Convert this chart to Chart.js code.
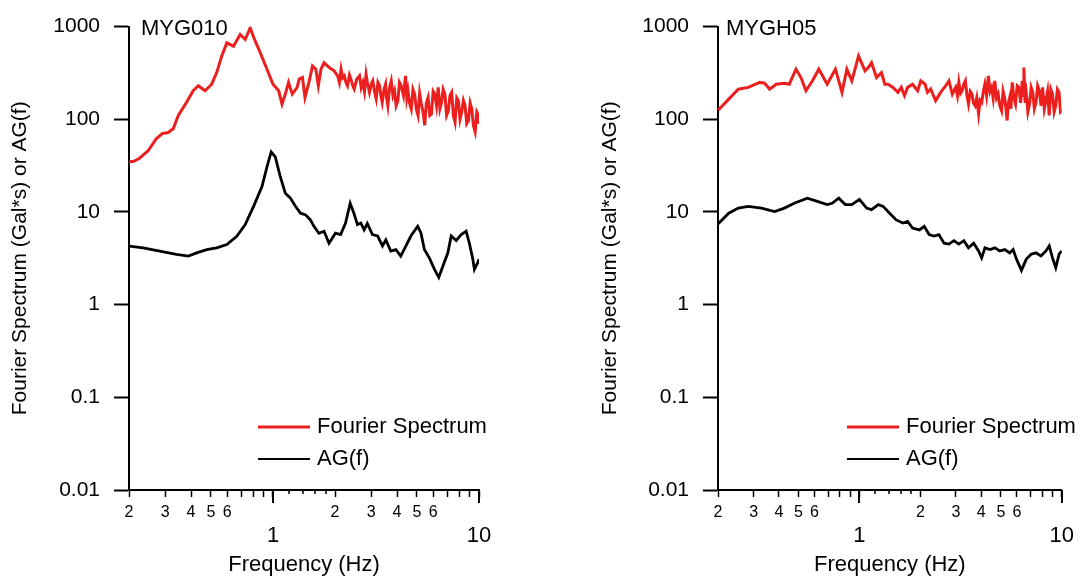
<!DOCTYPE html>
<html>
<head>
<meta charset="utf-8">
<script src="https://cdn.jsdelivr.net/npm/chart.js@4.4.1/dist/chart.umd.min.js"></script>
<style>
  html, body { margin: 0; padding: 0; background: #fff; }
  #wrap { position: relative; width: 1080px; height: 583px; overflow: hidden; }
  .panel { position: absolute; top: 0; width: 540px; height: 583px; }
</style>
</head>
<body>
<div id="wrap">
  <div class="panel" style="left:0"><canvas id="chartLeft" width="540" height="583"></canvas></div>
  <div class="panel" style="left:540px"><canvas id="chartRight" width="540" height="583"></canvas></div>
</div>
<script>
// assi
const freqTicks = [0.2, 0.3, 0.4, 0.5, 0.6, 0.7, 0.8, 0.9, 1, 2, 3, 4, 5, 6, 7, 8, 9, 10];
const freqTickLabels = ['2', '3', '4', '5', '6', '', '', '', '1', '2', '3', '4', '5', '6', '', '', '', '10'];
const freqMajor = [1, 10];
const freqSmall = [1.2, 1.4, 1.6, 1.8];
const ampTicks = [0.01, 0.1, 1, 10, 100, 1000];
const seriesNames = ['Fourier Spectrum', 'AG(f)'];

// MYG010
const myg010FourierHz = [0.2, 0.21, 0.225, 0.248, 0.272, 0.29, 0.31, 0.328, 0.347, 0.38, 0.41, 0.434, 0.468, 0.504, 0.533, 0.564, 0.597, 0.643, 0.693, 0.733, 0.775, 0.82, 0.867, 0.935, 1.0, 1.066, 1.106, 1.148, 1.19, 1.24, 1.31, 1.34, 1.39, 1.43, 1.5, 1.555, 1.615, 1.66, 1.71, 1.77, 1.875, 1.98,
    2.06, 2.1, 2.14, 2.18, 2.22, 2.26, 2.3, 2.35, 2.39, 2.44, 2.48, 2.55, 2.63, 2.68, 2.73, 2.78, 2.83, 2.88, 2.94, 3.0, 3.05, 3.11, 3.17, 3.23, 3.29, 3.34, 3.39, 3.46, 3.52, 3.56, 3.61, 3.68, 3.75, 3.82, 3.89, 3.96,
    4.04, 4.11, 4.19, 4.3, 4.4, 4.46, 4.52, 4.6, 4.69, 4.78, 4.87, 4.96, 5.06, 5.15, 5.25, 5.35, 5.45, 5.55, 5.66, 5.77, 5.88, 5.99, 6.1, 6.22, 6.34, 6.46, 6.58, 6.7, 6.83, 6.96,
    7.1, 7.23, 7.37, 7.51, 7.65, 7.8, 7.94, 8.09, 8.24, 8.4, 8.56, 8.72, 8.89, 9.06, 9.23, 9.4, 9.58, 9.76, 9.95, 10];
const myg010Fourier = [35, 35, 38, 46, 62, 70, 72, 79, 110, 152, 203, 230, 203, 239, 319, 481, 668, 615, 821, 726, 968, 696, 523, 347, 239, 203, 146, 187, 250, 187, 221, 271, 282, 172, 260, 376, 347, 230, 347, 408, 361, 333,
    294, 250, 347, 280, 294, 250, 230, 300, 271, 230, 212, 270, 294, 220, 250, 200, 306, 240, 195, 240, 260, 200, 166, 250, 230, 180, 152, 210, 239, 170, 140, 220, 260, 180, 203, 140,
    159, 250, 230, 180, 294, 170, 203, 150, 129, 210, 187, 130, 110, 190, 146, 120, 86, 150, 172, 110, 114, 200, 187, 140, 221, 130, 152, 210, 187, 110,
    124, 180, 195, 110, 93, 170, 159, 100, 119, 160, 140, 90, 97, 150, 129, 85, 73, 120, 110, 89];
const myg010AgHz = [0.2, 0.234, 0.282, 0.34, 0.388, 0.426, 0.477, 0.533, 0.597, 0.667, 0.733, 0.805, 0.884, 0.935, 0.98, 1.026, 1.085, 1.148, 1.215, 1.285, 1.36, 1.44, 1.52, 1.58, 1.67, 1.77, 1.87, 2.01, 2.13, 2.25, 2.37, 2.47, 2.57, 2.67, 2.77, 2.87, 3.04, 3.22, 3.4, 3.53, 3.73, 3.95, 4.17, 4.42, 4.67, 5.04, 5.23, 5.43, 5.74, 6.08, 6.38, 6.69, 7.06, 7.33, 7.75, 8.2, 8.66, 8.98, 9.33, 9.5, 9.9, 10];
const myg010Ag = [4.27, 4.1, 3.78, 3.48, 3.34, 3.62, 3.93, 4.1, 4.45, 5.47, 7.3, 11.5, 18.8, 30.7, 44.5, 39.3, 24, 15.9, 14.1, 11.5, 9.7, 9.3, 8.2, 7.0, 5.9, 6.2, 4.6, 5.9, 5.7, 7.6, 12.4, 9.7, 7.3, 7.6, 6.4, 7.5, 5.7, 5.5, 4.3, 5.0, 3.78, 3.93, 3.34, 4.3, 5.5, 7.0, 5.9, 3.93, 3.2, 2.4, 1.97, 2.63, 3.62, 5.5, 4.93, 5.7, 6.2, 4.6, 3.1, 2.4, 2.9, 3.1];

// MYGH05
const mygh05FourierHz = [0.2, 0.226, 0.252, 0.282, 0.322, 0.34, 0.36, 0.388, 0.426, 0.45, 0.486, 0.514, 0.544, 0.586, 0.63, 0.693, 0.761, 0.82, 0.867, 0.917, 0.99, 1.066, 1.106, 1.148, 1.215, 1.285, 1.335, 1.385, 1.465, 1.55, 1.61, 1.67, 1.73, 1.83, 1.94, 2.01, 2.11, 2.17, 2.25, 2.38, 2.52, 2.67, 2.77, 2.88,
    2.99, 3.05, 3.1, 3.16, 3.22, 3.28, 3.34, 3.4, 3.46, 3.53, 3.6, 3.66, 3.73, 3.8, 3.88, 3.95, 4.02, 4.1, 4.17, 4.25, 4.34, 4.42, 4.5, 4.58, 4.67, 4.76, 4.85, 4.94, 5.04, 5.13, 5.23, 5.3, 5.37, 5.45, 5.53, 5.61, 5.69, 5.8, 5.91,
    6.02, 6.14, 6.26, 6.38, 6.44, 6.5, 6.59, 6.68, 6.8, 6.93, 7.06, 7.19, 7.32, 7.46, 7.6, 7.75, 7.9, 8.04, 8.2, 8.35, 8.51, 8.67, 8.83, 9.0, 9.17, 9.34, 9.52, 9.7, 9.85, 10];
const mygh05Fourier = [125, 165, 211, 221, 250, 245, 211, 239, 245, 239, 347, 282, 203, 260, 347, 239, 347, 195, 347, 260, 481, 333, 361, 408, 282, 319, 239, 239, 221, 195, 221, 180, 221, 239, 203, 260, 239, 195, 212, 159, 195, 230, 260, 187,
    221, 180, 250, 190, 203, 240, 260, 180, 146, 200, 187, 150, 140, 170, 114, 160, 152, 200, 239, 180, 294, 200, 221, 170, 260, 170, 187, 140, 124, 200, 166, 130, 97, 150, 172, 130, 250, 170, 146,
    230, 221, 150, 260, 180, 361, 150, 187, 120, 146, 220, 195, 130, 152, 230, 203, 140, 221, 130, 159, 200, 110, 210, 187, 120, 140, 210, 195, 120, 124];
const mygh05AgHz = [0.2, 0.226, 0.252, 0.282, 0.328, 0.381, 0.426, 0.476, 0.553, 0.619, 0.693, 0.733, 0.79, 0.852, 0.917, 1.0, 1.085, 1.148, 1.24, 1.31, 1.41, 1.52, 1.64, 1.73, 1.83, 1.98, 2.09, 2.21, 2.34, 2.47, 2.62, 2.77, 2.93, 3.1, 3.28, 3.46, 3.67, 3.88, 4.02, 4.17, 4.42, 4.67, 4.94, 5.23, 5.53, 5.75, 5.97, 6.32, 6.68, 7.06, 7.46, 7.89, 8.35, 8.67, 9.0, 9.34, 9.7, 10];
const mygh05Ag = [7.4, 9.7, 11, 11.5, 11, 10.1, 11, 12.4, 14.1, 13, 12.0, 12.4, 14.1, 12.0, 12, 13.7, 11, 10.6, 12, 11.5, 9.7, 8.2, 7.6, 7.9, 6.7, 6.4, 7.0, 5.7, 5.5, 5.7, 4.6, 4.5, 4.9, 4.5, 4.9, 4.1, 4.6, 3.8, 3.2, 4.1, 3.93, 4.1, 3.8, 3.93, 3.62, 3.93, 3.1, 2.34, 3.1, 3.5, 3.62, 3.35, 3.8, 4.3, 3.2, 2.5, 3.5, 3.8];

const FONT = "'Liberation Sans', Arial, sans-serif";
const RED = '#ec1f1f';

function toPoints(xs, ys) {
    return xs.map((x, i) => ({ x: x, y: ys[i] }));
}

// tacche lunghe, nome stazione e legenda dentro il grafico
const panelDecor = {
    id: 'panelDecor',
    afterDraw(chart, args, opts) {
        const ctx = chart.ctx;
        const area = chart.chartArea;
        const xs = chart.scales.x;
        ctx.save();
        ctx.strokeStyle = '#000';
        ctx.lineWidth = 2;
        freqMajor.forEach(v => {
            const px = Math.round(xs.getPixelForValue(v));
            ctx.beginPath();
            ctx.moveTo(px, area.bottom);
            ctx.lineTo(px, area.bottom + 13);
            ctx.stroke();
        });
        ctx.lineWidth = 1.5;
        freqSmall.forEach(v => {
            const px = Math.round(xs.getPixelForValue(v));
            ctx.beginPath();
            ctx.moveTo(px, area.bottom);
            ctx.lineTo(px, area.bottom + 4);
            ctx.stroke();
        });

        ctx.fillStyle = '#000';
        ctx.font = '22px ' + FONT;
        ctx.textAlign = 'left';
        ctx.textBaseline = 'middle';
        ctx.fillText(opts.station, area.left + opts.labelDx, area.top + 2);

        chart.data.datasets.forEach((ds, i) => {
            const y = area.bottom - 63 + i * 32;
            const x0 = area.left + 129;
            ctx.strokeStyle = ds.borderColor;
            ctx.lineWidth = i === 0 ? 3 : 2;
            ctx.beginPath();
            ctx.moveTo(x0, y);
            ctx.lineTo(x0 + 52, y);
            ctx.stroke();
            ctx.fillText(ds.label, x0 + 59, y);
        });
        ctx.restore();
    }
};

function makePanel(canvasId, station, labelDx, pad, yWidth, fourierHz, fourier, agHz, ag) {
    return new Chart(document.getElementById(canvasId), {
        type: 'line',
        data: {
            datasets: [
                { label: seriesNames[0], data: toPoints(fourierHz, fourier), borderColor: RED, borderWidth: 3, pointRadius: 0, tension: 0 },
                { label: seriesNames[1], data: toPoints(agHz, ag), borderColor: '#000', borderWidth: 2.8, pointRadius: 0, tension: 0 }
            ]
        },
        options: {
            responsive: false,
            animation: false,
            layout: { autoPadding: false, padding: pad },
            plugins: {
                legend: { display: false },
                tooltip: { enabled: false },
                panelDecor: { station: station, labelDx: labelDx }
            },
            scales: {
                x: {
                    type: 'logarithmic',
                    min: 0.2,
                    max: 10,
                    afterBuildTicks: s => { s.ticks = freqTicks.map(v => ({ value: v })); },
                    afterFit: s => { s.height = 93; },
                    grid: { drawOnChartArea: false, drawTicks: true, tickLength: 7, tickColor: '#000', tickWidth: 1.5 },
                    border: { display: true, color: '#000', width: 2 },
                    ticks: {
                        autoSkip: false,
                        maxRotation: 0,
                        padding: 6,
                        color: '#000',
                        font: c => (c.tick && freqMajor.includes(c.tick.value))
                            ? { family: FONT, size: 22, lineHeight: 1 }
                            : { family: FONT, size: 16, lineHeight: 1.2 },
                        callback: (v, i) => freqMajor.includes(v) ? ['', freqTickLabels[i]] : freqTickLabels[i]
                    },
                    title: {
                        display: true,
                        text: 'Frequency (Hz)',
                        color: '#000',
                        font: { family: FONT, size: 22 },
                        padding: { top: 0, bottom: 5 }
                    }
                },
                y: {
                    type: 'logarithmic',
                    min: 0.01,
                    max: 1000,
                    afterBuildTicks: s => { s.ticks = ampTicks.map(v => ({ value: v })); },
                    afterFit: s => { s.width = yWidth; },
                    grid: { drawOnChartArea: false, drawTicks: true, tickLength: 15, tickColor: '#000', tickWidth: 2 },
                    border: { display: true, color: '#000', width: 2 },
                    ticks: {
                        padding: 14,
                        color: '#000',
                        font: { family: FONT, size: 21 },
                        callback: v => String(v)
                    },
                    title: {
                        display: true,
                        text: 'Fourier Spectrum (Gal*s) or AG(f)',
                        color: '#000',
                        font: { family: FONT, size: 21 },
                        padding: { top: 8, bottom: 0 }
                    }
                }
            }
        },
        plugins: [panelDecor]
    });
}

makePanel('chartLeft', 'MYG010', 12, { left: 0, right: 61, top: 22, bottom: 0 }, 129,
    myg010FourierHz, myg010Fourier, myg010AgHz, myg010Ag);
makePanel('chartRight', 'MYGH05', 8, { left: 50, right: 14, top: 22, bottom: 0 }, 128,
    mygh05FourierHz, mygh05Fourier, mygh05AgHz, mygh05Ag);
</script>
</body>
</html>
